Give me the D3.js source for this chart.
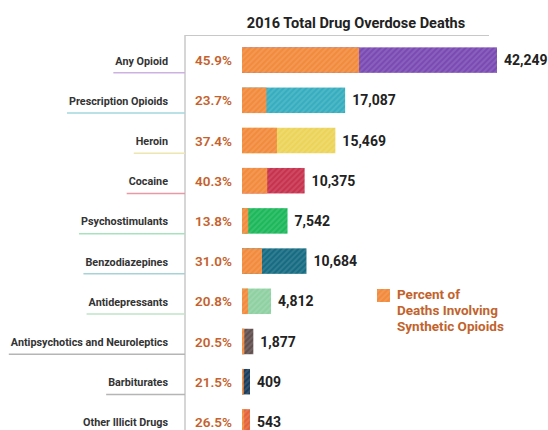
<!DOCTYPE html>
<html><head><meta charset="utf-8">
<script src="https://cdn.jsdelivr.net/npm/d3@7"></script>
<style>
body{margin:0;background:#fff;}
svg{display:block;font-family:Roboto, "Open Sans", sans-serif;}
</style></head>
<body><svg id="c" width="548" height="430"></svg>
<script>
const title = "2016 Total Drug Overdose Deaths";
const categories = ["Any Opioid","Prescription Opioids","Heroin","Cocaine","Psychostimulants","Benzodiazepines","Antidepressants","Antipsychotics and Neuroleptics","Barbiturates","Other Illicit Drugs"];
const totals = [42249,17087,15469,10375,7542,10684,4812,1877,409,543];
const pctSynthetic = [45.9,23.7,37.4,40.3,13.8,31.0,20.8,20.5,21.5,26.5];
const barColors = ["#7b4bb4","#37aebf","#ecd45a","#c7334f","#1db85b","#176c82","#8fd1a2","#62504f","#1b3d5c","#e3643a"];
const underlineColors = ["#cdb1e3","#a3d8de","#ece6b0","#eb98a6","#a6e3bd","#a5d3d8","#bfe5c9","#b5b5b5","#b5b5b5","#e8b8a5"];
const legendLines = ["Percent of","Deaths Involving","Synthetic Opioids"];
const orange = "#f28b3d";

const svg = d3.select("#c");
const defs = svg.append("defs");
function hatch(id, color){
  const p = defs.append("pattern").attr("id",id).attr("patternUnits","userSpaceOnUse")
    .attr("width",4).attr("height",4).attr("patternTransform","rotate(45)");
  p.append("rect").attr("width",4).attr("height",4).attr("fill",color);
  p.append("line").attr("x1",1).attr("x2",1).attr("y1",0).attr("y2",4)
    .attr("stroke","#fff").attr("stroke-opacity",0.22).attr("stroke-width",1);
  return `url(#${id})`;
}
const orangeFill = hatch("h-or", orange);

const x = d3.scaleLinear().domain([0, d3.max(totals)]).range([242, 497]);
const y = d3.scaleBand().domain(categories).range([40, 442]).paddingInner(0.366).paddingOuter(0.183);
const minW = 8;

const axisX = 185;
svg.append("text").attr("x",356).attr("y",28).attr("text-anchor","middle")
  .attr("font-size",14.5).attr("font-weight",700).attr("fill","#222").text(title);
svg.append("line").attr("x1",axisX).attr("x2",489).attr("y1",35.5).attr("y2",35.5).attr("stroke","#c8c8c8").attr("stroke-width",1.2);
svg.append("line").attr("x1",axisX).attr("x2",axisX).attr("y1",35).attr("y2",430).attr("stroke","#c8c8c8").attr("stroke-width",1.5);

const data = categories.map((c,i)=>({c, total:totals[i], pct:pctSynthetic[i], color:barColors[i], ul:underlineColors[i], i}));

const g = svg.append("g");
data.forEach(d=>{
  const yc = y(d.c) + y.bandwidth()/2;
  const bw = Math.max(x(d.total)-x(0), minW);
  const ow = bw * d.pct/100;
  const lab = g.append("text").attr("x",168).attr("y",yc+4.5).attr("text-anchor","end")
    .attr("font-size",10.8).attr("font-weight",700).attr("fill","#333").text(d.c);
  const tw = lab.node().getComputedTextLength();
  g.append("line").attr("x1",168-tw-2).attr("x2",axisX).attr("y1",y(d.c)+y.bandwidth()).attr("y2",y(d.c)+y.bandwidth())
    .attr("stroke",d.ul).attr("stroke-width",1.5);
  g.append("text").attr("x",232).attr("y",yc+5).attr("text-anchor","end")
    .attr("font-size",13.5).attr("font-weight",600).attr("fill","#c4612c").text(d.pct.toFixed(1)+"%");
  g.append("rect").attr("x",x(0)).attr("y",y(d.c)).attr("width",bw).attr("height",y.bandwidth())
    .attr("fill",hatch("h"+d.i,d.color));
  g.append("rect").attr("x",x(0)).attr("y",y(d.c)).attr("width",ow).attr("height",y.bandwidth())
    .attr("fill",orangeFill);
  g.append("text").attr("x",x(0)+bw+7).attr("y",yc+5).attr("font-size",14).attr("font-weight",700)
    .attr("fill","#222").text(d3.format(",")(d.total));
});

const lg = svg.append("g");
lg.append("rect").attr("x",377).attr("y",289).attr("width",13).attr("height",13).attr("fill",orangeFill);
legendLines.forEach((t,i)=>{
  lg.append("text").attr("x",397).attr("y",298.5+i*16).attr("font-size",13.5).attr("font-weight",700)
    .attr("fill","#c2632d").text(t);
});
</script></body></html>
